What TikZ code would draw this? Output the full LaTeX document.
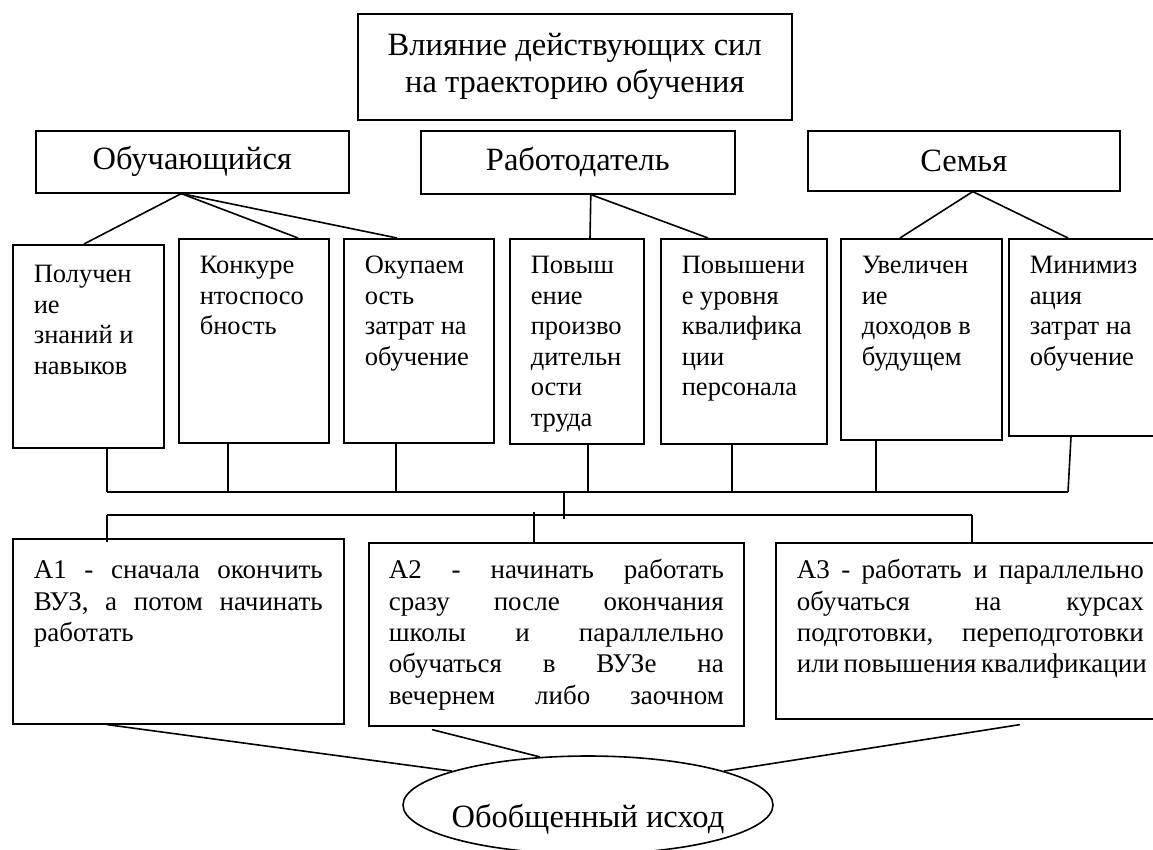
\documentclass[tikz,border=0pt]{standalone}
\usepackage{fontspec}
\setmainfont{Liberation Serif}
\usetikzlibrary{shapes.geometric}
\newcommand{\cellbox}[4]{\begin{minipage}[t][#2pt][t]{#1pt}\raggedright\rule{0pt}{#3pt}#4\end{minipage}}
\newcommand{\jline}[1]{\makebox[\linewidth][s]{#1}\par}
\begin{document}
\begin{tikzpicture}[x=1pt,y=-1pt,
  big/.style={font=\fontsize{32.5}{37}\selectfont},
  txt/.style={font=\fontsize{26.5}{30.5}\selectfont},
  alt/.style={font=\fontsize{27}{31.3}\selectfont},
  hdr/.style={draw, line width=1.6pt, inner sep=0pt, anchor=north west, align=center, big},
  frame/.style={draw, line width=1.6pt, inner xsep=21pt, inner ysep=0pt, anchor=north west, txt},
  conn/.style={line width=1.6pt}]
\useasboundingbox (0,0) rectangle (1153,850);
\fill[white] (0,0) rectangle (1153,850);
\clip (0,0) rectangle (1153,850);

% title and actors
\node[hdr, minimum width=434pt, minimum height=106pt] (title) at (357,13) {Влияние действующих сил\\на траекторию обучения};
\node[hdr, minimum width=313pt, minimum height=62pt] (ob) at (35,130) {Обучающийся};
\node[hdr, minimum width=314pt, minimum height=63pt] (rab) at (420,130) {Работодатель};
\node[hdr, minimum width=312pt, minimum height=60pt] (sem) at (807,130) {Семья};

% factor boxes
\node[frame] (b1) at (12,244) {\cellbox{109}{203}{38}{Получен\\ие\\знаний и\\навыков}};
\node[frame] (b2) at (178,238) {\cellbox{108}{204}{35}{Конкуре\\нтоспосо\\бность}};
\node[frame] (b3) at (343,238) {\cellbox{108}{204}{35}{Окупаем\\ость\\затрат на\\обучение}};
\node[frame] (b4) at (509,238) {\cellbox{92}{205}{35}{Повыш\\ение\\произво\\дительн\\ости\\труда}};
\node[frame] (b5) at (660,238) {\cellbox{124}{205}{35}{Повышени\\е уровня\\квалифика\\ции\\персонала}};
\node[frame] (b6) at (840,238) {\cellbox{119}{201}{35}{Увеличен\\ие\\доходов в\\будущем}};
\node[frame] (b7) at (1008,238) {\cellbox{115}{197}{35}{Минимиз\\ация\\затрат на\\обучение}};

% alternatives
\node[frame, alt] (A1) at (12,538) {\cellbox{289}{185}{40}{\jline{А1 - сначала окончить}\jline{ВУЗ, а потом начинать}работать}};
\node[frame, inner xsep=20pt, alt] (A2) at (368,542) {\cellbox{335}{183}{36}{\jline{А2 - начинать работать}\jline{сразу после окончания}\jline{школы и параллельно}\jline{обучаться в ВУЗе на}\jline{вечернем либо заочном}}};
\node[frame, alt] (A3) at (775,542) {\cellbox{347}{176}{36}{\jline{А3 - работать и параллельно}\jline{обучаться на курсах}\jline{подготовки, переподготовки}\jline{или повышения квалификации}}};

% outcome
\node[ellipse, draw, line width=1.6pt, minimum width=370pt, minimum height=98pt, inner sep=0pt, text height=44pt, text depth=0pt, big] (out) at (588,805) {\makebox[200pt][c]{Обобщенный исход}};

% actor connectors
\draw[conn] ([xshift=-11pt]ob.south) -- ([xshift=72pt]b1.north west);
\draw[conn] ([xshift=-11pt]ob.south) -- ([xshift=120pt]b2.north west);
\draw[conn] ([xshift=-11pt]ob.south) -- ([xshift=54pt]b3.north west);
\draw[conn] ([xshift=13pt]rab.south) -- ([xshift=81pt]b4.north west);
\draw[conn] ([xshift=13pt]rab.south) -- ([xshift=48pt]b5.north west);
\draw[conn] ([xshift=9pt]sem.south) -- ([xshift=60pt]b6.north west);
\draw[conn] ([xshift=9pt]sem.south) -- ([xshift=60pt]b7.north west);

% bus
\coordinate (busL) at (107,492);
\coordinate (busR) at (1068,492);
\draw[conn] (busL) -- (busR);
\draw[conn] ([xshift=95pt]b1.south west) -- (busL);
\foreach \n/\x in {b2/50, b3/53, b4/79, b5/72, b6/36}
  \draw[conn] ([xshift=\x pt]\n.south west) -- ([xshift=\x pt]\n.south west |- busL);
\draw[conn] ([xshift=63pt]b7.south west) -- (busR);
\coordinate (mid) at (564,492);
\draw[conn] (mid) -- ++(0,27);
\coordinate (bus2L) at (107,515);
\coordinate (bus2R) at (972,515);
\draw[conn] (bus2L) -- (bus2R);
\draw[conn] (bus2L) -- ([xshift=95pt,yshift=-4pt]A1.north west);
\draw[conn] ([xshift=166pt]A2.north west) -- ++(0,-30);
\draw[conn] (bus2R) -- ([xshift=197pt]A3.north west);

% outcome connectors
\draw[conn] ([xshift=95pt]A1.south west) -- (out.166);
\draw[conn] ([xshift=64pt,yshift=-3pt]A2.south west) -- (out.135);
\draw[conn] ([xshift=245pt,yshift=-5pt]A3.south west) -- (out.14);
\end{tikzpicture}
\end{document}
